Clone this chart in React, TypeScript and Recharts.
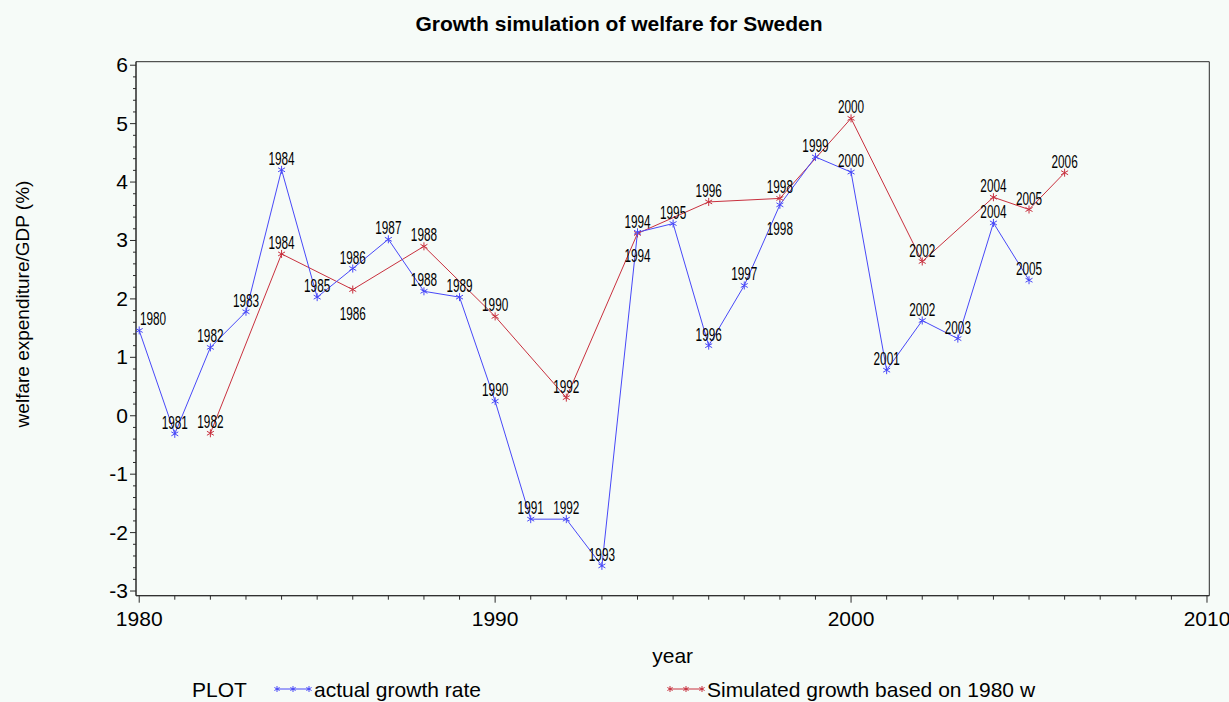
import React from "react";
import { LineChart, Line, XAxis, YAxis, ReferenceArea, Label } from "recharts";

const years = [
  1980, 1981, 1982, 1983, 1984, 1985, 1986, 1987, 1988, 1989, 1990, 1991, 1992, 1993,
  1994, 1995, 1996, 1997, 1998, 1999, 2000, 2001, 2002, 2003, 2004, 2005, 2006,
];
const actualGrowth = [
  1.46, -0.31, 1.17, 1.78, 4.21, 2.03, 2.52, 3.02, 2.13, 2.03, 0.25, -1.77, -1.77, -2.57,
  3.14, 3.29, 1.2, 2.23, 3.61, 4.43, 4.17, 0.78, 1.63, 1.32, 3.3, 2.32, null,
];
const simulatedGrowth = [
  null, null, -0.3, null, 2.77, null, 2.16, null, 2.9, null, 1.7, null, 0.31, null,
  3.12, null, 3.66, null, 3.72, null, 5.09, null, 2.64, null, 3.74, 3.53, 4.16,
];
const xTickLabels = [1980, 1990, 2000, 2010];
const yTickLabels = [-3, -2, -1, 0, 1, 2, 3, 4, 5, 6];

const BLUE = "#4848f8";
const RED = "#c8303e";
const AXIS = "#2a2a2a";
const BG = "#f6fbf8";
const FONT = "'Liberation Sans', Arial, sans-serif";

const X_DOMAIN: [number, number] = [1979.91, 2010.065];
const Y_DOMAIN: [number, number] = [-3.08, 6.06];

// SAS moved some point labels under the marker to avoid overlaps
const labelsBelow: Record<string, number[]> = {
  actual: [1994, 1998],
  simulated: [1986],
};

const data = years.map((year, i) => ({
  year,
  actual: actualGrowth[i],
  simulated: simulatedGrowth[i],
}));

// every year gets a minor tick, every 0.2 on the y axis
const xTicks: number[] = [];
for (let yr = 1980; yr <= 2010; yr++) xTicks.push(yr);
const yTicks: number[] = [];
for (let k = -15; k <= 30; k++) yTicks.push(k / 5);

function Asterisk({ cx, cy, color, r = 4 }: { cx: number; cy: number; color: string; r?: number }) {
  const dx = r * 0.87;
  const dy = r * 0.5;
  return (
    <g stroke={color} strokeWidth={1}>
      <line x1={cx} y1={cy - r} x2={cx} y2={cy + r} />
      <line x1={cx - dx} y1={cy - dy} x2={cx + dx} y2={cy + dy} />
      <line x1={cx - dx} y1={cy + dy} x2={cx + dx} y2={cy - dy} />
    </g>
  );
}

function makeDot(color: string) {
  return (props: any) => {
    const { cx, cy, index, value } = props;
    if (value == null || cy == null) return <g key={`d${index}`} />;
    return (
      <g key={`d${index}`}>
        <Asterisk cx={cx} cy={cy} color={color} />
      </g>
    );
  };
}

// the SAS point labels are a narrow font, squeeze them horizontally
function makeLabel(series: string) {
  return (props: any) => {
    const { x, y, index, value } = props;
    if (value == null || y == null) return null;
    const year = years[index];
    const below = labelsBelow[series].includes(year);
    const cx = Math.max(x, 153);
    const ty = below ? y + 30 : y - 5;
    return (
      <text
        transform={`translate(${cx} ${ty}) scale(0.62 1)`}
        x={0}
        y={0}
        textAnchor="middle"
        fontFamily={FONT}
        fontSize={19}
        fill="#000"
      >
        {year}
      </text>
    );
  };
}

function XTick(props: any) {
  const { x, y, payload } = props;
  const v = payload.value;
  const major = xTickLabels.includes(v);
  return (
    <g>
      <line x1={x} x2={x} y1={y} y2={y + (major ? 7 : 4)} stroke={AXIS} />
      {major && (
        <text x={x} y={y + 30} textAnchor="middle" fontFamily={FONT} fontSize={21} fill="#000">
          {v}
        </text>
      )}
    </g>
  );
}

function YTick(props: any) {
  const { x, y, payload } = props;
  const v = payload.value;
  const major = Math.abs(v - Math.round(v)) < 1e-6;
  const show = major && yTickLabels.includes(Math.round(v));
  return (
    <g>
      <line x1={x} x2={x - (major ? 6 : 3)} y1={y} y2={y} stroke={AXIS} />
      {show && (
        <text x={x - 8} y={y + 7} textAnchor="end" fontFamily={FONT} fontSize={21} fill="#000">
          {Math.round(v)}
        </text>
      )}
    </g>
  );
}

const legendItems = [
  { label: "actual growth rate", color: BLUE, x: 277 },
  { label: "Simulated growth based on 1980 w", color: RED, x: 670 },
];

export default function App() {
  return (
    <div
      style={{
        position: "absolute",
        left: 0,
        top: 0,
        width: 1229,
        height: 702,
        background: BG,
        fontFamily: FONT,
      }}
    >
      <svg
        width={1229}
        height={702}
        style={{ position: "absolute", left: 0, top: 0, pointerEvents: "none" }}
      >
        <text x={619} y={31} textAnchor="middle" fontSize={21} fontWeight="bold" fill="#000" fontFamily={FONT}>
          Growth simulation of welfare for Sweden
        </text>
        <text x={192} y={697} fontSize={21} fill="#000" fontFamily={FONT}>
          PLOT
        </text>
        {legendItems.map((it) => (
          <g key={it.label}>
            <line x1={it.x} x2={it.x + 33} y1={689} y2={689} stroke={it.color} />
            {[0, 16, 32].map((d) => (
              <Asterisk key={d} cx={it.x + d} cy={689} color={it.color} r={3} />
            ))}
            <text x={it.x + 37} y={697} fontSize={21} fill="#000" fontFamily={FONT}>
              {it.label}
            </text>
          </g>
        ))}
      </svg>
      <LineChart
        width={1229}
        height={702}
        data={data}
        margin={{ top: 61.7, right: 19.7, bottom: 46.3, left: 76 }}
      >
        <ReferenceArea
          x1={X_DOMAIN[0]}
          x2={X_DOMAIN[1]}
          y1={Y_DOMAIN[0]}
          y2={Y_DOMAIN[1]}
          fill="none"
          stroke={AXIS}
          strokeWidth={1}
          ifOverflow="visible"
        />
        <XAxis
          dataKey="year"
          type="number"
          domain={X_DOMAIN}
          ticks={xTicks}
          interval={0}
          allowDataOverflow
          height={60}
          tickSize={0}
          tickMargin={0}
          tickLine={false}
          tick={<XTick />}
          stroke={AXIS}
        >
          <Label
            content={(p: any) => {
              const vb = p.viewBox;
              return (
                <text x={vb.x + vb.width / 2} y={vb.y + 67} textAnchor="middle" fontFamily={FONT} fontSize={21} fill="#000">
                  year
                </text>
              );
            }}
          />
        </XAxis>
        <YAxis
          type="number"
          domain={Y_DOMAIN}
          ticks={yTicks}
          interval={0}
          allowDataOverflow
          width={60}
          tickSize={0}
          tickMargin={0}
          tickLine={false}
          tick={<YTick />}
          stroke={AXIS}
        >
          <Label
            content={(p: any) => {
              const vb = p.viewBox;
              const cx = vb.x - 47;
              const cy = 304;
              return (
                <text
                  x={cx}
                  y={cy}
                  transform={`rotate(-90 ${cx} ${cy})`}
                  textAnchor="middle"
                  fontFamily={FONT}
                  fontSize={19}
                  fill="#000"
                >
                  welfare expenditure/GDP (%)
                </text>
              );
            }}
          />
        </YAxis>
        <Line
          type="linear"
          dataKey="simulated"
          stroke={RED}
          strokeWidth={1}
          connectNulls
          dot={makeDot(RED)}
          activeDot={false}
          label={makeLabel("simulated")}
          isAnimationActive={false}
        />
        <Line
          type="linear"
          dataKey="actual"
          stroke={BLUE}
          strokeWidth={1}
          connectNulls
          dot={makeDot(BLUE)}
          activeDot={false}
          label={makeLabel("actual")}
          isAnimationActive={false}
        />
      </LineChart>
    </div>
  );
}
